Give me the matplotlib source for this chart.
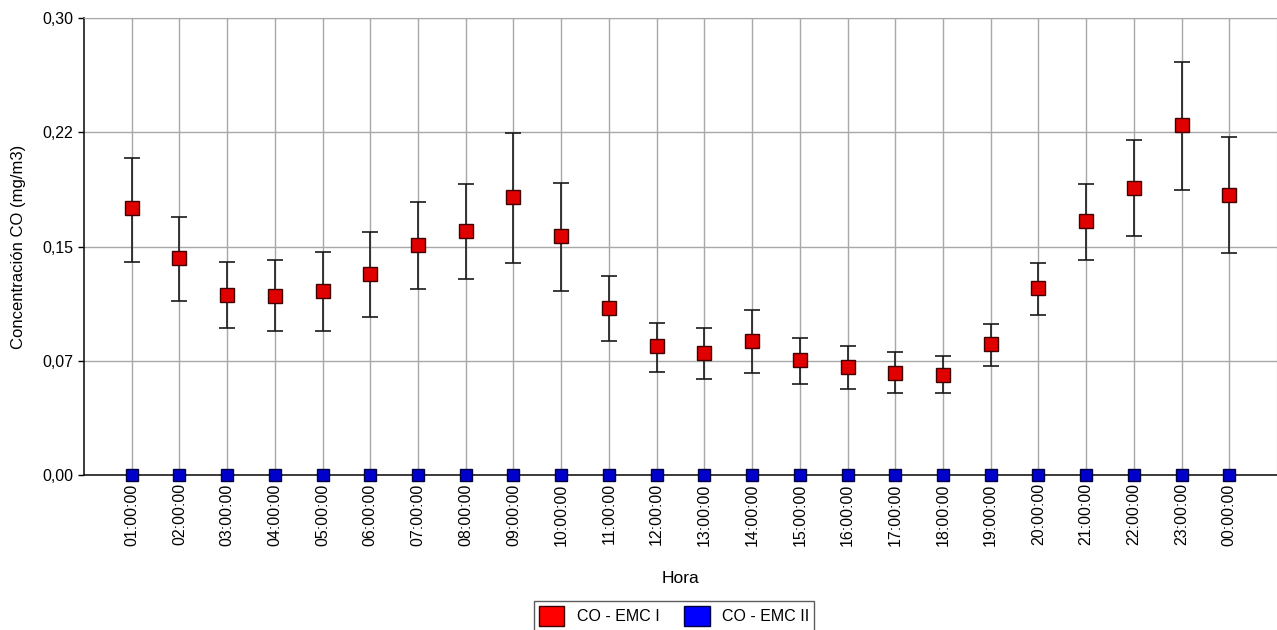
import numpy as np
import matplotlib.pyplot as plt
from matplotlib.patches import Patch

plt.rcParams['font.family'] = ['Liberation Sans', 'DejaVu Sans']

horas = ['01:00:00', '02:00:00', '03:00:00', '04:00:00', '05:00:00', '06:00:00',
         '07:00:00', '08:00:00', '09:00:00', '10:00:00', '11:00:00', '12:00:00',
         '13:00:00', '14:00:00', '15:00:00', '16:00:00', '17:00:00', '18:00:00',
         '19:00:00', '20:00:00', '21:00:00', '22:00:00', '23:00:00', '00:00:00']

# CO - EMC I: media horaria y extremos de la barra de error
emc1 = [0.175, 0.1425, 0.118, 0.1175, 0.121, 0.132, 0.151, 0.160, 0.1825, 0.157,
        0.1096, 0.0847, 0.080, 0.088, 0.0755, 0.0709, 0.067, 0.0657, 0.086, 0.1228,
        0.1668, 0.1884, 0.2298, 0.1838]
emc1_sup = [0.208, 0.1694, 0.140, 0.141, 0.1464, 0.1595, 0.179, 0.191, 0.2245, 0.1917,
            0.1307, 0.0998, 0.0965, 0.1083, 0.090, 0.0847, 0.0808, 0.078, 0.099, 0.139,
            0.191, 0.220, 0.271, 0.222]
emc1_inf = [0.140, 0.1142, 0.0965, 0.0945, 0.0945, 0.1037, 0.122, 0.1287, 0.139, 0.1208,
            0.088, 0.0676, 0.063, 0.067, 0.0597, 0.0565, 0.0538, 0.0538, 0.0716, 0.105,
            0.141, 0.157, 0.187, 0.1458]

# CO - EMC II
emc2 = [0.0] * 24

x = np.arange(1, len(horas) + 1)
emc1 = np.array(emc1)
err = [emc1 - np.array(emc1_inf), np.array(emc1_sup) - emc1]

fig = plt.figure(figsize=(12.77, 6.30), dpi=100)
ax = fig.add_axes([0.0658, 0.246, 0.9342, 0.7254])

ax.errorbar(x, emc1, yerr=err, fmt='none', ecolor='#1a1a1a', elinewidth=1.2,
            capsize=6, capthick=1.2, zorder=3)
ax.plot(x, emc1, 's', color='#e00000', markeredgecolor='#400000', markersize=10,
        markeredgewidth=1, zorder=4)
ax.plot(x, emc2, 's', color='#0000cc', markeredgecolor='#000040', markersize=9,
        markeredgewidth=1, zorder=4, clip_on=False)

ax.set_xlim(0, 25)
ax.set_ylim(0, 0.30)
ax.set_xticks(x)
ax.set_xticklabels(horas, rotation=90, fontsize=11.5)
yt = [0, 0.075, 0.15, 0.225, 0.30]
ax.set_yticks(yt)
ax.set_yticklabels(['0,00', '0,07', '0,15', '0,22', '0,30'], fontsize=11.5)
ax.tick_params(axis='x', length=0, pad=6)
ax.tick_params(axis='y', length=4, width=1)

ax.grid(True, color='#a8a8a8', linewidth=1)
ax.set_axisbelow(True)
for s in ['top', 'right']:
    ax.spines[s].set_color('#a8a8a8')
for s in ['left', 'bottom']:
    ax.spines[s].set_color('#1a1a1a')
    ax.spines[s].set_linewidth(1.2)

ax.set_xlabel('Hora', fontsize=12.5, labelpad=18)
ax.set_ylabel('Concentración CO (mg/m3)', fontsize=12, labelpad=12)

handles = [Patch(facecolor='#ff0000', edgecolor='#400000', label='CO - EMC I'),
           Patch(facecolor='#0000ff', edgecolor='#000040', label='CO - EMC II')]
fig.legend(handles=handles, loc='lower center', bbox_to_anchor=(0.528, -0.014), ncol=2,
           fontsize=11.5, frameon=True, fancybox=False, edgecolor='#333333',
           handlelength=1.6, handleheight=1.6, columnspacing=1.5, borderpad=0.3)

fig.savefig('out.png', dpi=100)
